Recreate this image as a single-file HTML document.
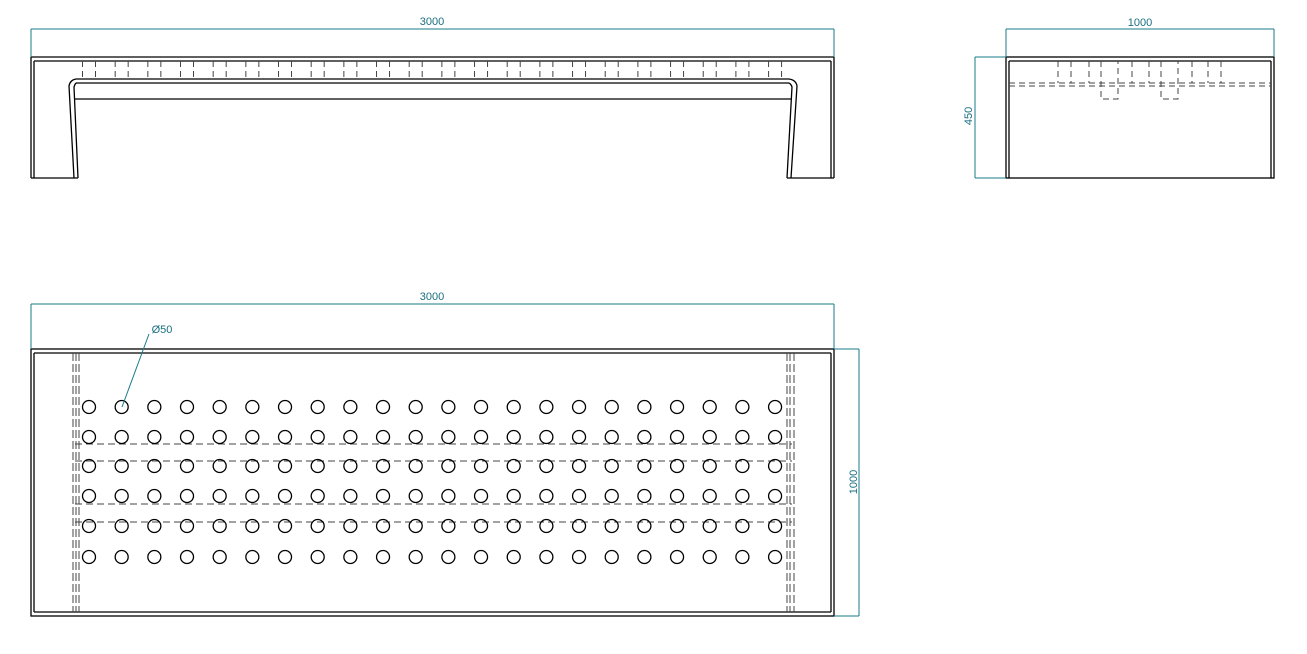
<!DOCTYPE html>
<html><head><style>html,body{margin:0;padding:0;background:#fff}svg{display:block}</style></head>
<body>
<svg width="1307" height="654" viewBox="0 0 1307 654" xmlns="http://www.w3.org/2000/svg" font-family="Liberation Sans, sans-serif">
<g fill="none" stroke="#000" stroke-width="1.3">
<line x1="31" y1="57" x2="834" y2="57"/>
<line x1="34" y1="61" x2="831" y2="61"/>
<line x1="31" y1="57" x2="31" y2="178"/>
<line x1="34" y1="61" x2="34" y2="178"/>
<line x1="834" y1="57" x2="834" y2="178"/>
<line x1="831" y1="61" x2="831" y2="178"/>
<line x1="76" y1="79" x2="789" y2="79"/>
<line x1="76" y1="83" x2="789" y2="83"/>
<line x1="75" y1="99" x2="791" y2="99"/>
<path d="M76 79 Q70 80 69 86 L74 178"/>
<path d="M76 83 Q75 84 74 87 L78 178"/>
<path d="M789 79 Q796 80 797 86 L791 178"/>
<path d="M789 83 Q791 84 792 87 L787 178"/>
<line x1="31" y1="178" x2="78" y2="178"/>
<line x1="787" y1="178" x2="834" y2="178"/>
<rect x="1006" y="57" width="268" height="121"/>
<line x1="1009" y1="61" x2="1009" y2="178"/>
<line x1="1271" y1="61" x2="1271" y2="178"/>
<line x1="1009" y1="61" x2="1271" y2="61"/>
<rect x="31" y="349" width="803" height="267"/>
<line x1="34" y1="353" x2="34" y2="612"/>
<line x1="831" y1="353" x2="831" y2="612"/>
<line x1="34" y1="353" x2="831" y2="353"/>
<line x1="34" y1="612" x2="831" y2="612"/>
</g>
<g fill="none" stroke="#444" stroke-width="1" stroke-dasharray="6,4">
<line x1="1009" y1="83" x2="1271" y2="83"/>
<line x1="1009" y1="86" x2="1271" y2="86"/>
<path d="M1058 61V83M1071 61V83M1089 61V83M1132 61V83M1149 61V83M1192 61V83M1208 61V83M1221 61V83"/>
<path d="M1101 61V99H1118V61M1161 61V99H1178V61"/>
<path d="M73 353V612M76 353V612M79 353V612M787 353V612M790 353V612M794 353V612" stroke-dasharray="8,3"/>
<path d="M75 444H792M75 461H792M75 504H792M75 522H792" stroke-dasharray="7,4"/>
</g>
<g id="dash" fill="none" stroke="#444" stroke-width="1" stroke-dasharray="6,4"></g>
<g id="circ" fill="none" stroke="#000" stroke-width="1.3"></g>
<g stroke="#1a7a8a" stroke-width="1" fill="none">
<path d="M31 29H834M31 29V57M834 29V57"/>
<path d="M1006 29H1274M1006 29V57M1274 29V57"/>
<path d="M975 57V178M975 57H1006M975 178H1006"/>
<path d="M31 304H834M31 304V349M834 304V349"/>
<path d="M859 349V616M834 349H859M834 616H859"/>
<path d="M122 407L149 334"/>
</g>
<g fill="#1a6f80" font-size="11" text-anchor="middle">
<text x="432" y="25">3000</text>
<text x="1140" y="26">1000</text>
<text x="432" y="300">3000</text>
<text x="162" y="333">Ø50</text>
<text transform="translate(972,116) rotate(-90)">450</text>
<text transform="translate(857,482) rotate(-90)">1000</text>
</g>
<script>
var ns="http://www.w3.org/2000/svg",c=document.getElementById("circ"),d=document.getElementById("dash");
var rows=[407,437,466,496,526,557];
for(var i=0;i<22;i++){var x=89+i*32.67;
 for(var j=0;j<6;j++){var e=document.createElementNS(ns,"circle");e.setAttribute("cx",x);e.setAttribute("cy",rows[j]);e.setAttribute("r","6.5");c.appendChild(e);}
 [x-6.5,x+6.5].forEach(function(xx){var l=document.createElementNS(ns,"line");l.setAttribute("x1",xx);l.setAttribute("x2",xx);l.setAttribute("y1",61);l.setAttribute("y2",79);d.appendChild(l);});
}
</script>
</svg>
</body></html>
